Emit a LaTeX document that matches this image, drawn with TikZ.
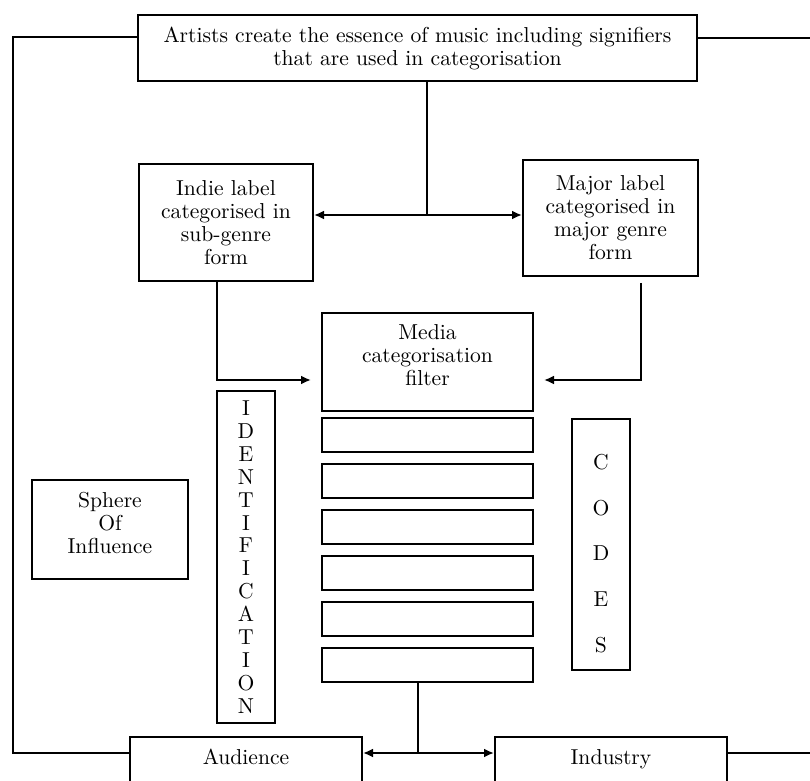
\documentclass[tikz,border=0pt]{standalone}
\usetikzlibrary{arrows.meta}
\begin{document}
\begin{tikzpicture}[>={Latex[length=5pt,width=4.5pt]},line width=1pt,x=0.5pt,y=-0.5pt,
  box/.style={draw,align=center,inner sep=0pt,font=\fontsize{10.8}{11.5}\selectfont},
  slot/.style={draw,minimum width=105.5pt,minimum height=17pt,inner sep=0pt},
  letters/.style={draw,align=center,inner sep=0pt,minimum width=29pt}]
  \clip (0,0) rectangle (810,781);

  % Top box
  \node[box,minimum width=279.5pt,minimum height=33pt] (artists) at (417.5,48)
    {Artists create the essence of music including signifiers\\that are used in categorisation};

  % Labels
  \node[box,minimum width=87pt,minimum height=58.5pt] (indie) at (226,222.5)
    {Indie label\\categorised in\\sub-genre\\form};
  \node[box,minimum width=87.5pt,minimum height=58pt] (major) at (610.5,218)
    {Major label\\categorised in\\major genre\\form};

  % Filter and its slots
  \node[box,minimum width=105.5pt,minimum height=49pt,text depth=6.5pt] (media) at (427.5,362)
    {Media\\categorisation\\filter};
  \foreach \i in {1,...,6}
    \node[slot] (slot\i) at (427.5,{435+46*(\i-1)}) {};

  % Side boxes
  \node[letters,minimum height=166pt,font=\fontsize{10.8}{11.45}\selectfont] (ident) at (246,557)
    {I\\D\\E\\N\\T\\I\\F\\I\\C\\A\\T\\I\\O\\N};
  \node[letters,minimum height=125.5pt] (codes) at (601,544.5) {};
  \node[align=center,inner sep=0pt,font=\fontsize{10.8}{22.9}\selectfont] (codestext)
    at ([yshift=-4.5pt]codes.center) {C\\O\\D\\E\\S};
  \node[box,minimum width=78pt,minimum height=49.5pt,text depth=6.5pt] (sphere) at (110,529.5)
    {Sphere\\Of\\Influence};

  % Bottom boxes
  \node[box,anchor=north,minimum width=116pt,inner ysep=3pt,text height=10.5pt,text depth=25pt]
    (audience) at (246,736) {Audience};
  \node[box,anchor=north,minimum width=116pt,inner ysep=3pt,text height=10.5pt,text depth=25pt]
    (industry) at (611,736) {Industry};

  % Outer loop
  \coordinate (ltop) at (13,37);
  \coordinate (lbottom) at (13,753);
  \coordinate (rtop) at (810,38);
  \coordinate (rbottom) at (810,753);
  \draw (artists.west |- ltop) -- (ltop) -- (lbottom) -- (audience.west |- lbottom);
  \draw (artists.east |- rtop) -- (rtop);
  \draw (industry.east |- rbottom) -- (rbottom);

  % Artists to labels
  \coordinate (split) at (427,215);
  \draw (artists.south -| split) -- (split);
  \draw[->] (split) -- (indie.east |- split);
  \draw[->] (split) -- (major.west |- split);

  % Labels to filter
  \coordinate (ibend) at (217,380);
  \coordinate (mbend) at (641,380);
  \draw[->,shorten >=5pt] (indie.south -| ibend) |- (media.west |- ibend);
  \draw[->,shorten >=5pt] ([yshift=-3pt]major.south -| mbend) |- (media.east |- mbend);

  % Filter to audience and industry
  \coordinate (bsplit) at (418,753);
  \draw (slot6.south -| bsplit) -- (bsplit);
  \draw[->] (bsplit) -- (audience.east |- bsplit);
  \draw[->] (bsplit) -- (industry.west |- bsplit);
\end{tikzpicture}
\end{document}
